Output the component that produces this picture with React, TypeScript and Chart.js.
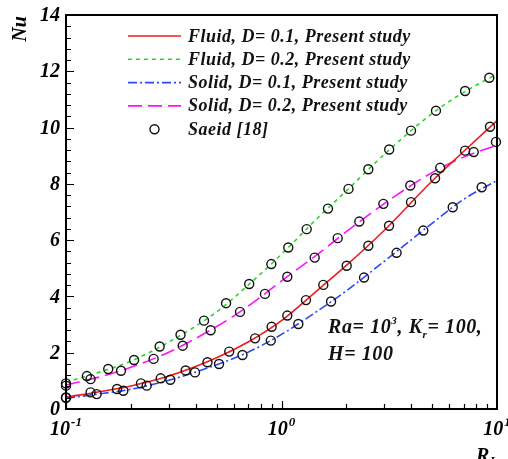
import { useEffect, useRef } from "react";
import { Chart, registerables } from "chart.js";
Chart.register(...registerables);

// Present study curves (R_L grid)
const lineR = [0.1, 0.15, 0.2, 0.3, 0.5, 0.7, 1, 1.5, 2, 3, 5, 7, 10];
const fluidD01 = [0.42, 0.64, 0.82, 1.17, 1.82, 2.38, 3.14, 4.28, 5.1, 6.35, 8.1, 9.15, 10.25];
const fluidD02 = [0.95, 1.36, 1.7, 2.38, 3.45, 4.4, 5.5, 6.85, 7.75, 9.05, 10.5, 11.25, 11.9];
const solidD01 = [0.38, 0.56, 0.7, 1.02, 1.57, 2.02, 2.65, 3.53, 4.2, 5.25, 6.6, 7.45, 8.12];
const solidD02 = [0.85, 1.18, 1.48, 2.02, 2.93, 3.65, 4.55, 5.55, 6.3, 7.3, 8.4, 8.95, 9.38];

// Saeid [18] markers
const saeidFluid02R = [0.1, 0.125, 0.157, 0.207, 0.272, 0.34, 0.437, 0.553, 0.708, 0.897, 1.075, 1.309, 1.643, 2.046, 2.529, 3.16, 3.99, 5.21, 7.11, 9.21];
const saeidFluid02Nu = [0.91, 1.17, 1.42, 1.74, 2.22, 2.64, 3.14, 3.76, 4.44, 5.15, 5.74, 6.39, 7.12, 7.82, 8.52, 9.22, 9.89, 10.6, 11.3, 11.77];
const saeidSolid02R = [0.1, 0.13, 0.18, 0.255, 0.348, 0.469, 0.642, 0.838, 1.064, 1.426, 1.823, 2.296, 2.97, 3.96, 5.45, 7.8, 9.89];
const saeidSolid02Nu = [0.83, 1.06, 1.36, 1.78, 2.25, 2.8, 3.45, 4.09, 4.7, 5.38, 6.07, 6.66, 7.29, 7.94, 8.57, 9.13, 9.49];
const saeidFluid01R = [0.1, 0.13, 0.1725, 0.2228, 0.275, 0.359, 0.4535, 0.572, 0.754, 0.9, 1.064, 1.299, 1.563, 2.007, 2.529, 3.155, 3.99, 5.16, 7.11, 9.28];
const saeidFluid01Nu = [0.41, 0.59, 0.71, 0.91, 1.09, 1.37, 1.66, 2.04, 2.51, 2.92, 3.32, 3.87, 4.41, 5.09, 5.8, 6.51, 7.35, 8.2, 9.18, 10.03];
const saeidSolid01R = [0.1, 0.1388, 0.1845, 0.2369, 0.3048, 0.3968, 0.513, 0.659, 0.892, 1.197, 1.698, 2.415, 3.42, 4.55, 6.23, 8.49];
const saeidSolid01Nu = [0.4, 0.53, 0.65, 0.83, 1.04, 1.3, 1.6, 1.92, 2.43, 3.02, 3.82, 4.67, 5.55, 6.34, 7.17, 7.88];

const yMajorTicks = [0, 2, 4, 6, 8, 10, 12, 14];
const xMajorTicks = [0.1, 1, 10];
const xTickExponents = ["-1", "0", "1"];

const legendLabels = [
  "Fluid, D= 0.1, Present study",
  "Fluid, D= 0.2, Present study",
  "Solid, D= 0.1, Present study",
  "Solid, D= 0.2, Present study",
  "Saeid [18]",
];

const F = (s: number) => `italic bold ${s}px "Liberation Serif", "Times New Roman", serif`;

const pts = (xs: number[], ys: number[]) => xs.map((x, i) => ({ x, y: ys[i] }));

const decorPlugin = {
  id: "decor",
  afterDatasetsDraw(chart: any) {
    const ctx = chart.ctx as any;
    const { left, right, top, bottom } = chart.chartArea;
    const xs = chart.scales.x;
    const ys = chart.scales.y;
    ctx.save();
    ctx.strokeStyle = "#000";
    ctx.fillStyle = "#000";
    // ticks
    ctx.lineWidth = 1.2;
    ctx.beginPath();
    for (let i = 0; i <= 35; i++) {
      const v = i * 0.4;
      const y = Math.round(ys.getPixelForValue(v)) + 0.5;
      const major = Math.abs(v / 2 - Math.round(v / 2)) < 1e-6;
      ctx.moveTo(left, y);
      ctx.lineTo(left + (major ? 8 : 5), y);
    }
    for (let d = -1; d <= 0; d++) {
      for (let m = 1; m <= 9; m++) {
        const v = m * Math.pow(10, d);
        const x = Math.round(xs.getPixelForValue(v)) + 0.5;
        ctx.moveTo(x, bottom);
        ctx.lineTo(x, bottom - (m === 1 ? 8 : 5));
      }
    }
    ctx.stroke();
    // frame
    ctx.lineWidth = 2;
    ctx.strokeRect(left, top, right - left, bottom - top);

    // y tick labels
    ctx.font = F(20);
    ctx.textAlign = "right";
    ctx.textBaseline = "middle";
    yMajorTicks.forEach((v) => {
      ctx.fillText(String(v), left - 6, ys.getPixelForValue(v) + 1);
    });
    // x tick labels
    ctx.textBaseline = "alphabetic";
    xMajorTicks.forEach((v, i) => {
      const x = xs.getPixelForValue(v);
      ctx.font = F(20);
      const w1 = ctx.measureText("10").width;
      ctx.font = F(13);
      const w2 = ctx.measureText(xTickExponents[i]).width;
      const start = x - (w1 + w2 + 1) / 2;
      ctx.textAlign = "left";
      ctx.font = F(20);
      ctx.fillText("10", start, bottom + 26);
      ctx.font = F(13);
      ctx.fillText(xTickExponents[i], start + w1 + 1, bottom + 17);
    });
    // axis titles
    ctx.save();
    ctx.translate(26, 29);
    ctx.rotate(-Math.PI / 2);
    ctx.font = F(20);
    ctx.textAlign = "center";
    ctx.textBaseline = "alphabetic";
    ctx.fillText("Nu", 0, 0);
    ctx.restore();
    ctx.font = F(20);
    ctx.textAlign = "left";
    ctx.fillText("R", 476, 462);
    ctx.font = F(12);
    ctx.fillText("L", 490, 465);

    // legend
    const rowY0 = 41.5;
    const dy = 23.3;
    const sx0 = 128;
    const sx1 = 181;
    const tx = 188;
    const ds = chart.data.datasets;
    for (let i = 0; i < 5; i++) {
      const by = rowY0 + dy * i;
      const my = by - 5.5;
      if (i < 4) {
        const d = ds[i];
        ctx.save();
        ctx.strokeStyle = d.borderColor;
        ctx.lineWidth = d.borderWidth;
        ctx.setLineDash(d.borderDash || []);
        ctx.beginPath();
        ctx.moveTo(sx0, my);
        ctx.lineTo(sx1, my);
        ctx.stroke();
        ctx.restore();
      } else {
        const d = ds[4];
        ctx.save();
        ctx.strokeStyle = d.borderColor;
        ctx.lineWidth = d.borderWidth;
        ctx.beginPath();
        ctx.arc((sx0 + sx1) / 2, my, d.pointRadius, 0, Math.PI * 2);
        ctx.stroke();
        ctx.restore();
      }
      ctx.font = F(18);
      ctx.letterSpacing = "0.5px";
      ctx.fillStyle = "#111";
      ctx.textAlign = "left";
      ctx.fillText(legendLabels[i], tx, by);
    }

    // annotation
    ctx.letterSpacing = "0.6px";
    let ax = 328;
    const b1 = 333;
    const seg = (t: string, s: number, dyy: number) => {
      ctx.font = F(s);
      ctx.fillText(t, ax, b1 + dyy);
      ax += ctx.measureText(t).width;
    };
    ctx.fillStyle = "#111";
    seg("Ra= 10", 20, 0);
    seg("3", 11, -9);
    seg(", K", 20, 0);
    seg("r", 11, 5);
    seg("= 100,", 20, 0);
    ctx.font = F(20);
    ctx.fillText("H= 100", 328, 360);
    ctx.restore();
  },
};

export default function App() {
  const ref = useRef<HTMLCanvasElement | null>(null);
  useEffect(() => {
    if (!ref.current) return;
    const lineDs = (label: string, ys: number[], color: string, dash: number[]) => ({
      type: "line" as const,
      label,
      data: pts(lineR, ys),
      borderColor: color,
      borderWidth: 1.6,
      borderDash: dash,
      pointRadius: 0,
      fill: false,
      cubicInterpolationMode: "monotone" as const,
      order: 2,
    });
    const saeid = [
      ...pts(saeidFluid01R, saeidFluid01Nu),
      ...pts(saeidFluid02R, saeidFluid02Nu),
      ...pts(saeidSolid01R, saeidSolid01Nu),
      ...pts(saeidSolid02R, saeidSolid02Nu),
    ];
    const chart = new Chart(ref.current, {
      type: "line",
      data: {
        datasets: [
          lineDs(legendLabels[0], fluidD01, "#ee1c1c", []),
          lineDs(legendLabels[1], fluidD02, "#2ed42e", [4, 4]),
          lineDs(legendLabels[2], solidD01, "#2848ff", [9, 3, 2, 3]),
          lineDs(legendLabels[3], solidD02, "#ff10ff", [14, 6]),
          {
            type: "line" as const,
            label: legendLabels[4],
            data: saeid,
            showLine: false,
            pointRadius: 4.5,
            pointHoverRadius: 4.5,
            pointStyle: "circle",
            borderColor: "#111",
            backgroundColor: "rgba(0,0,0,0)",
            pointBackgroundColor: "rgba(0,0,0,0)",
            borderWidth: 1.4,
            clip: false,
            order: 0,
          } as any,
        ],
      },
      options: {
        responsive: false,
        animation: false,
        devicePixelRatio: 1,
        layout: { padding: { left: 66, right: 11, top: 15, bottom: 50 } },
        plugins: { legend: { display: false }, tooltip: { enabled: false } },
        events: [],
        scales: {
          x: { type: "logarithmic", min: 0.1, max: 10, display: false },
          y: { type: "linear", min: 0, max: 14, display: false },
        },
      },
      plugins: [decorPlugin],
    });
    return () => chart.destroy();
  }, []);
  return (
    <div style={{ position: "fixed", left: 0, top: 0, width: 508, height: 459, background: "#fff" }}>
      <canvas ref={ref} width={508} height={459} style={{ display: "block" }} />
    </div>
  );
}
